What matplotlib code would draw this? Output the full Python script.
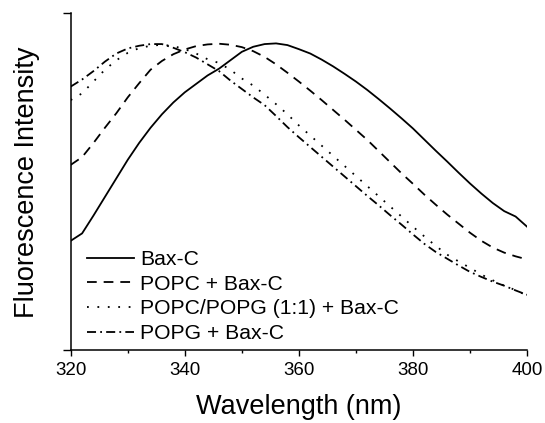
import matplotlib
matplotlib.use("Agg")
import matplotlib.pyplot as plt
from matplotlib.ticker import MultipleLocator

# wavelength grid (nm) and normalised intensities
wavelength = [320, 322, 324, 326, 328, 330, 332, 334, 336, 338, 340,
              342, 344, 346, 348, 350, 352, 354, 356, 358, 360,
              362, 364, 366, 368, 370, 372, 374, 376, 378, 380,
              382, 384, 386, 388, 390, 392, 394, 396, 398, 400]

bax_c = [0.325, 0.347, 0.400, 0.455, 0.510, 0.565, 0.615, 0.660, 0.700, 0.735, 0.765,
         0.790, 0.815, 0.835, 0.860, 0.885, 0.900, 0.908, 0.910, 0.905, 0.893,
         0.880, 0.862, 0.842, 0.820, 0.797, 0.772, 0.745, 0.717, 0.688, 0.658,
         0.625, 0.592, 0.560, 0.527, 0.495, 0.465, 0.437, 0.413, 0.397, 0.367]

popc = [0.550, 0.573, 0.615, 0.660, 0.703, 0.750, 0.792, 0.832, 0.858, 0.878, 0.892,
        0.902, 0.907, 0.909, 0.906, 0.899, 0.887, 0.870, 0.848, 0.823, 0.797,
        0.770, 0.742, 0.713, 0.684, 0.654, 0.624, 0.591, 0.558, 0.525, 0.494,
        0.462, 0.432, 0.403, 0.376, 0.349, 0.325, 0.305, 0.290, 0.279, 0.270]

popc_popg = [0.742, 0.762, 0.797, 0.832, 0.860, 0.882, 0.896, 0.903, 0.906, 0.902, 0.893,
             0.880, 0.863, 0.852, 0.832, 0.806, 0.785, 0.758, 0.730, 0.700, 0.667,
             0.637, 0.607, 0.577, 0.547, 0.517, 0.487, 0.457, 0.427, 0.397, 0.367,
             0.338, 0.310, 0.284, 0.264, 0.245, 0.225, 0.208, 0.192, 0.179, 0.163]

popg = [0.782, 0.803, 0.828, 0.856, 0.880, 0.895, 0.903, 0.908, 0.908, 0.897, 0.884,
        0.868, 0.848, 0.828, 0.800, 0.775, 0.750, 0.727, 0.695, 0.662, 0.632,
        0.603, 0.574, 0.545, 0.516, 0.487, 0.458, 0.430, 0.401, 0.373, 0.344,
        0.316, 0.292, 0.272, 0.252, 0.233, 0.218, 0.204, 0.192, 0.178, 0.165]

labels = ['Bax-C', 'POPC + Bax-C', 'POPC/POPG (1:1) + Bax-C', 'POPG + Bax-C']

plt.rcParams['font.family'] = ['Liberation Sans', 'DejaVu Sans']
plt.rcParams['lines.scale_dashes'] = False

fig = plt.figure(figsize=(5.45, 4.23), dpi=100)
ax = fig.add_axes([0.1297, 0.1714, 0.8373, 0.7978])

lw = 1.3
ax.plot(wavelength, bax_c, color='black', lw=lw, linestyle='-', label=labels[0])
ax.plot(wavelength, popc, color='black', lw=lw, linestyle=(0, (7, 5)), label=labels[1])
ax.plot(wavelength, popc_popg, color='black', lw=lw, linestyle=(0, (1.3, 6.2)), label=labels[2])
ax.plot(wavelength, popg, color='black', lw=lw, linestyle=(0, (6.5, 3, 1.3, 3)), label=labels[3])

ax.set_xlim(320, 400)
ax.set_ylim(0, 1)
ax.xaxis.set_major_locator(MultipleLocator(20))
ax.xaxis.set_minor_locator(MultipleLocator(10))
ax.set_yticks([0, 1])
ax.set_yticklabels([])
ax.tick_params(axis='x', which='major', direction='out', length=4.3, width=1, labelsize=13.5, pad=4)
ax.tick_params(axis='x', which='minor', direction='out', length=2.4, width=1)
ax.tick_params(axis='y', direction='out', length=5.5, width=1)

for side in ['top', 'right']:
    ax.spines[side].set_visible(False)
for side in ['left', 'bottom']:
    ax.spines[side].set_linewidth(1.1)

ax.set_xlabel('Wavelength (nm)', fontsize=19.5, labelpad=11)
ax.set_ylabel('Fluorescence Intensity', fontsize=19.5, labelpad=13)

ax.legend(loc='lower left', bbox_to_anchor=(0.035, 0.022), frameon=False,
          fontsize=15.2, handlelength=2.25, handletextpad=0.3,
          labelspacing=0.27, borderpad=0, borderaxespad=0)

fig.savefig('out.png', dpi=100)
